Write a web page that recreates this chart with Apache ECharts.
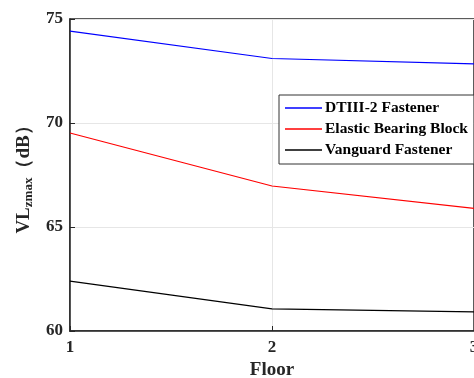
<!DOCTYPE html>
<html>
<head>
<meta charset="utf-8"/>
<script src="https://cdn.jsdelivr.net/npm/echarts@6/dist/echarts.min.js"></script>
<style>body{margin:0;background:#fff}</style>
</head>
<body>
<div id="main" style="width:474px;height:378px;"></div>
<script>
// floors and VLzmax values (dB)
var floors = [1, 2, 3];
var dtiii = [74.42, 73.1, 72.84];
var elastic = [69.52, 66.97, 65.9];
var vanguard = [62.4, 61.06, 60.92];
var names = ['DTIII-2 Fastener', 'Elastic Bearing Block', 'Vanguard Fastener'];
var colors = ['#0000ff', '#ff0000', '#000000'];

function pairs(arr) {
  return floors.map(function (f, i) { return [f, arr[i]]; });
}

var font = 'Liberation Serif';
var myChart = echarts.init(document.getElementById('main'));
myChart.setOption({
  animation: false,
  textStyle: { fontFamily: font },
  grid: {
    left: 70, right: 0, top: 19, bottom: 47,
    outerBoundsMode: 'none',
    containLabel: false,
    show: true, borderColor: '#262626', borderWidth: 1.5
  },
  legend: {
    orient: 'vertical',
    left: 279, top: 95,
    padding: [5, 6, 6, 6],
    itemGap: 5,
    itemWidth: 37, itemHeight: 1.5,
    icon: 'rect',
    backgroundColor: '#fff',
    borderColor: '#333', borderWidth: 1,
    borderRadius: 0,
    textStyle: { fontFamily: font, fontWeight: 'bold', fontSize: 15.5, color: '#000', padding: [0, 0, 0, -2] },
    data: names
  },
  xAxis: {
    type: 'value', min: 1, max: 3, interval: 1,
    name: 'Floor', nameLocation: 'middle', nameGap: 29,
    nameTextStyle: { fontFamily: font, fontWeight: 'bold', fontSize: 19, color: '#262626' },
    axisLine: { lineStyle: { color: '#262626', width: 1.5 } },
    axisTick: { inside: true, length: 5, lineStyle: { color: '#262626' } },
    axisLabel: { fontFamily: font, fontWeight: 'bold', fontSize: 17, color: '#262626', margin: 8 },
    splitLine: { show: true, lineStyle: { color: '#e6e6e6' } }
  },
  yAxis: {
    type: 'value', min: 60, max: 75, interval: 5,
    name: '{a|VL}{b|zmax}{a|（dB）}', nameLocation: 'middle', nameGap: 34,
    nameTextStyle: {
      rich: {
        a: { fontFamily: font, fontWeight: 'bold', fontSize: 19, color: '#262626' },
        b: { fontFamily: font, fontWeight: 'bold', fontSize: 13, color: '#262626', verticalAlign: 'bottom', padding: [9, 0, 0, 0] }
      }
    },
    axisLine: { show: true, lineStyle: { color: '#262626', width: 1.5 } },
    axisTick: { show: true, inside: true, length: 5, lineStyle: { color: '#262626' } },
    axisLabel: { fontFamily: font, fontWeight: 'bold', fontSize: 17, color: '#262626', margin: 7 },
    splitLine: { show: true, lineStyle: { color: '#e6e6e6' } }
  },
  series: [
    { name: names[0], type: 'line', data: pairs(dtiii), symbol: 'none', lineStyle: { color: colors[0], width: 1.2 }, itemStyle: { color: colors[0] } },
    { name: names[1], type: 'line', data: pairs(elastic), symbol: 'none', lineStyle: { color: colors[1], width: 1.2 }, itemStyle: { color: colors[1] } },
    { name: names[2], type: 'line', data: pairs(vanguard), symbol: 'none', lineStyle: { color: colors[2], width: 1.2 }, itemStyle: { color: colors[2] } }
  ]
});
</script>
</body>
</html>
